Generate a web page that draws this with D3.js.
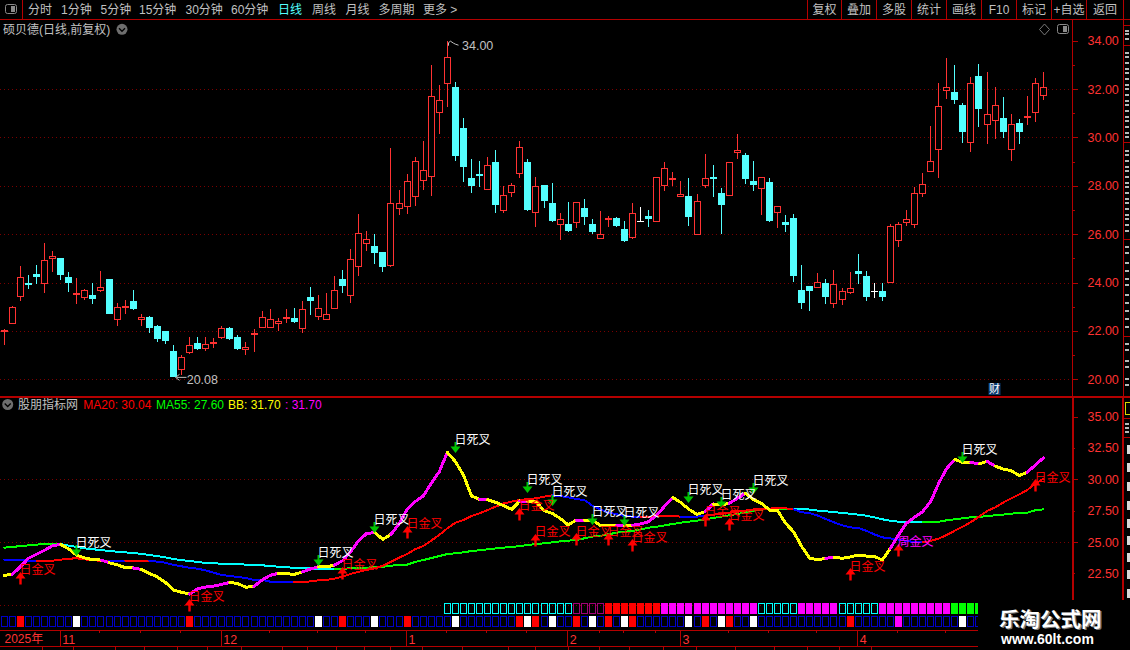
<!DOCTYPE html>
<html><head><meta charset="utf-8">
<script src="https://cdn.jsdelivr.net/npm/d3@7"></script>
<style>
html,body{margin:0;padding:0;background:#000;overflow:hidden}
svg{display:block}
text{font-family:"Liberation Sans","Noto Sans CJK SC",sans-serif}
</style></head><body>
<svg id="c" width="1130" height="650"></svg>
<script>
// ---------- data ----------
const openP=[21.96,22.30,23.42,23.98,24.35,23.95,24.97,25.02,24.23,23.49,23.36,23.49,23.65,24.15,22.45,22.96,23.24,22.46,22.58,22.20,22.00,21.17,20.38,21.09,21.50,21.27,21.46,21.71,22.12,21.75,21.21,21.83,22.13,22.13,22.30,22.49,22.53,22.09,23.40,22.59,22.46,22.92,24.15,23.46,24.66,25.61,25.51,25.26,24.68,27.05,
27.11,27.53,28.19,28.35,31.00,32.20,32.09,30.39,28.32,28.49,27.84,28.98,26.97,27.69,28.48,28.98,26.89,28.03,27.29,26.37,26.42,26.48,27.08,26.42,25.81,26.57,26.67,26.21,25.85,26.53,26.75,26.52,28.00,28.28,27.55,27.58,25.98,28.00,28.36,27.70,27.59,29.37,29.27,28.20,27.86,28.16,26.89,26.50,26.67,23.69,
23.86,23.79,23.98,23.13,23.29,23.58,24.48,24.27,23.65,23.65,23.99,25.73,26.48,26.39,27.67,28.58,29.49,31.93,31.88,31.34,29.78,32.54,30.53,30.69,30.80,29.49,30.60,30.82,31.02,31.73];
const closeP=[22.02,22.98,24.22,23.90,24.23,24.92,25.10,24.31,23.98,23.55,23.69,23.32,23.80,22.70,22.98,23.03,22.91,22.56,22.12,21.67,21.58,20.10,20.91,21.41,21.25,21.45,21.54,22.11,21.67,21.25,21.32,21.91,22.56,22.48,22.40,22.58,22.37,22.89,23.24,22.94,22.69,23.68,23.86,24.96,26.04,25.79,25.22,24.64,27.28,27.28,
28.19,29.01,28.64,31.70,31.54,33.31,29.23,28.78,27.99,28.41,28.85,27.21,27.61,28.02,29.59,27.00,27.98,27.37,26.55,26.62,26.13,27.32,26.71,26.09,26.00,26.66,26.34,25.72,26.86,26.53,26.63,28.35,28.72,28.34,27.65,26.71,27.36,28.31,28.29,27.21,28.97,29.47,28.28,28.03,28.35,26.55,27.15,26.38,24.27,23.15,
23.65,24.02,23.40,23.93,23.64,23.76,24.35,23.40,23.65,23.40,26.33,26.41,26.62,27.69,28.06,29.01,31.29,32.07,31.55,30.23,32.24,31.18,30.96,31.33,30.23,30.54,30.23,30.89,32.24,32.07];
const highP=[22.07,23.02,24.68,24.31,24.73,25.64,25.31,25.02,24.44,24.19,23.73,23.98,24.48,24.15,23.15,23.28,23.69,22.70,22.62,22.25,22.00,21.42,21.00,21.75,21.75,21.75,21.71,22.20,22.16,21.83,21.54,22.08,22.82,22.91,22.53,22.91,22.95,23.24,23.82,23.49,23.57,24.27,24.52,25.39,26.83,26.13,26.01,25.26,29.56,27.83,
28.49,29.19,29.85,33.00,32.17,34.00,32.29,30.80,29.11,29.03,29.19,29.48,27.99,28.12,29.85,29.11,28.36,28.03,28.12,26.88,27.33,27.32,27.46,26.63,26.96,26.75,26.71,26.55,27.29,27.12,27.00,28.35,28.98,28.57,28.20,28.32,27.66,29.32,28.86,27.91,28.97,30.14,29.36,29.03,28.35,28.32,27.15,26.79,26.83,24.73,
23.86,24.40,24.15,24.52,23.78,24.44,25.18,24.48,23.98,23.98,26.41,26.50,27.00,27.95,28.53,30.47,32.25,33.28,33.00,31.42,32.50,33.04,32.71,32.09,31.67,30.97,30.76,31.71,32.46,32.71];
const lowP=[21.42,22.30,23.24,23.73,23.94,23.57,24.44,24.11,23.61,23.11,23.28,23.11,23.61,22.70,22.20,22.70,22.87,22.20,21.91,21.54,21.46,20.08,20.18,21.05,21.21,21.17,21.29,21.67,21.63,21.21,21.00,21.13,22.12,22.12,22.00,22.33,22.33,21.91,22.66,22.45,22.45,22.91,23.57,23.15,24.27,25.31,24.77,24.44,24.64,26.79,
26.83,27.17,27.83,27.58,30.14,31.27,29.04,28.16,27.70,27.95,27.84,26.88,26.88,27.54,28.32,26.96,26.30,27.08,26.50,25.76,26.09,26.26,26.38,26.01,25.81,26.30,26.30,25.68,25.80,26.53,26.30,26.52,27.79,27.99,27.55,26.34,25.98,27.91,27.54,26.01,27.59,29.11,28.08,27.79,26.79,26.52,26.26,26.09,24.02,22.91,
22.82,23.79,23.11,22.96,23.07,23.53,23.94,23.24,23.36,23.24,23.99,25.47,26.34,26.26,27.54,28.58,28.32,31.59,31.38,29.77,29.40,30.43,29.73,29.94,29.98,29.03,29.73,30.51,30.64,31.55];

const ma20=[23.59,23.56,23.54,23.51,23.46,23.48,23.51,23.59,23.67,23.70,23.62,23.54,23.51,23.51,23.51,23.51,23.51,23.51,23.51,23.43,23.35,23.17,23.06,22.95,22.87,22.74,22.55,22.37,22.29,22.21,22.13,21.97,21.97,21.84,21.84,21.81,21.81,21.81,21.86,21.94,21.97,22.08,22.24,22.45,22.63,22.77,22.90,23.11,23.43,23.75,
24.04,24.42,24.68,25.11,25.56,26.09,26.54,26.75,27.07,27.29,27.55,27.82,28.08,28.22,28.35,28.43,28.48,28.61,28.72,28.67,28.56,28.43,28.35,27.90,27.60,27.34,27.21,27.07,27.02,27.02,27.02,27.05,27.07,27.07,27.02,27.02,27.02,27.10,27.18,27.23,27.34,27.42,27.50,27.60,27.60,27.66,27.71,27.68,27.60,27.37,
27.31,27.10,26.83,26.57,26.33,26.17,26.12,25.90,25.61,25.37,25.29,25.19,25.08,25.00,24.97,25.08,25.27,25.56,25.90,26.22,26.59,27.02,27.47,27.76,28.14,28.48,28.80,29.15,29.65,30.04];
const ma55=[24.55,24.60,24.68,24.73,24.79,24.87,24.87,24.84,24.71,24.60,24.49,24.42,24.36,24.28,24.23,24.18,24.10,24.07,23.96,23.88,23.78,23.64,23.56,23.48,23.41,23.33,23.30,23.27,23.27,23.27,23.19,23.17,23.14,23.09,23.03,22.98,22.95,22.93,22.90,22.87,22.87,22.87,22.87,22.90,22.93,22.95,23.01,23.03,23.11,23.16,
23.19,23.41,23.56,23.72,23.88,24.04,24.10,24.18,24.28,24.34,24.42,24.49,24.55,24.60,24.68,24.76,24.84,24.89,24.97,25.05,25.11,25.16,25.29,25.43,25.50,25.61,25.74,25.82,25.88,26.01,26.14,26.22,26.33,26.44,26.54,26.62,26.70,26.81,26.91,27.02,27.13,27.23,27.37,27.50,27.58,27.63,27.66,27.66,27.66,27.66,
27.58,27.50,27.45,27.39,27.31,27.26,27.18,27.10,26.97,26.81,26.70,26.62,26.57,26.59,26.59,26.59,26.62,26.73,26.81,26.89,26.97,26.99,27.07,27.13,27.18,27.26,27.31,27.34,27.53,27.60];
const bb=[22.34,22.42,23.03,23.70,24.02,24.34,24.71,24.81,24.44,23.94,23.72,23.59,23.56,23.35,23.19,22.95,22.93,22.82,22.50,22.21,21.78,21.17,20.99,20.85,21.28,21.41,21.49,21.62,21.78,21.68,21.39,21.46,21.97,22.34,22.50,22.47,22.42,22.61,22.85,23.03,23.01,23.17,23.51,24.23,25.11,25.69,25.74,25.21,25.61,26.44,
27.60,28.22,28.67,29.68,30.61,32.15,31.41,30.34,28.67,28.40,28.38,28.16,27.90,27.60,28.27,28.22,28.22,27.50,27.29,26.89,26.36,26.75,26.75,26.75,26.33,26.28,26.28,26.28,26.33,26.44,26.62,27.15,27.87,28.54,28.14,27.60,27.21,27.42,28.03,27.95,28.08,28.48,28.88,28.40,28.08,27.55,27.50,26.49,25.80,24.63,
23.70,23.59,23.70,23.78,23.70,23.80,23.96,23.88,23.86,23.56,24.49,25.56,26.49,26.97,27.42,28.22,29.68,30.87,31.59,31.33,31.35,31.22,31.43,31.06,30.82,30.69,30.29,30.56,31.14,31.70];

// index runs [from,to) in which a line takes its alternate colour
const ma20BlueRuns=[[0,4],[13,15],[18,36],[68,79],[84,87],[98,114]];
const ma55CyanRuns=[[7,41],[98,114]];
const bbMagentaRuns=[[1,7],[12,13],[16,17],[23,28],[31,34],[37,39],[41,46],[48,55],[59,60],[64,65],[71,72],[76,77],[78,83],[87,88],[90,92],[102,103],[110,118],[120,121],[122,123],[127,129]];

// crossing signals: candle index and indicator value at the arrow tip
const deathIdx=[9,39,46,56,65,68,73,77,85,89,93,119];
const deathVal=[23.86,23.11,25.74,32.12,28.93,27.90,26.36,26.28,28.08,27.68,28.83,31.27];
const goldIdx=[2,23,42,50,64,66,71,75,78,87,90,105,128];
const goldVal=[22.63,20.45,23.03,26.28,27.74,25.64,25.69,25.69,25.21,27.23,26.91,22.90,30.00];
const weekIdx=[111];
const weekVal=[24.84];
const deathText="日死叉", goldText="日金叉", weekText="周金叉";

// upper status strip: [from,to] index, kind
const rowARuns=[[55,70,"cyan"],[71,74,"plum"],[75,81,"red"],[82,93,"magenta"],[94,98,"cyan"],[99,103,"magenta"],[104,108,"cyan"],[109,117,"magenta"],[118,121,"green"]];
const rowBCount=122;

const priceMajor=[20,22,24,26,28,30,32,34];
const priceGrid=[20,22,24,26,28,30,32];
const priceMinor=[21,23,25,27,29,31,33];
const indMajor=[25,30,35];
const indMinor=[22.5,27.5,32.5];
const indGrid=[20,25,30];
const monthIdx=[7,27,50,70,84,106];
const monthLabels=["11","12","1","2","3","4"];
const yearLabel="2025年";
const dayTicks=[12,17,22,33,39,45,55,60,65,74,77,81,90,95,101,111,117];
const lowerTicks=[4.8,8.6,13.8,17.4,21.5,25.2,29.4,34.5,37.7,41.3,44.7,48,51.9,56.9,62.6,66,70,73.9,77.6,81.8,85.9,90.8,95.6,99.7,103.7,107.7];

const periodLabels=["分时","1分钟","5分钟","15分钟","30分钟","60分钟","日线","周线","月线","多周期","更多 >"];
const periodStarts=[28,61,100.5,139,185.5,231,278,312,345.5,378.5,423];
const actionLabels=["复权","叠加","多股","统计","画线","F10","标记","+自选","返回"];
const actionEdges=[807.5,841.5,876.5,911.5,946.5,981.5,1016.5,1051.5,1086.5,1123.5];

// ---------- colours ----------
const RED="#ff3232",CYAN="#54ffff",AXIS="#b40000",GRID="#7a0000",GREY="#c0c0c0";

// ---------- scales ----------
const n=openP.length;
const x=d3.scaleLinear().domain([0,n-1]).range([4.33,1043.4]);
const y=d3.scaleLinear().domain([20,34]).range([379.3,40.7]);
const y2=d3.scaleLinear().domain([20,35]).range([604.7,416.6]);
const cx=i=>Math.floor(x(i))+.5;
const crisp=v=>Math.round(v)+.5;

const svg=d3.select("#c").style("background","#000");
const defs=svg.append("defs");
defs.append("clipPath").attr("id","rows").append("rect").attr("x",0).attr("y",596).attr("width",978).attr("height",54);

// grid
const g=svg.append("g").attr("shape-rendering","crispEdges");
g.selectAll(".gu").data(priceGrid).join("line").attr("x1",0).attr("x2",1072)
 .attr("y1",d=>crisp(y(d))).attr("y2",d=>crisp(y(d))).attr("stroke",GRID).attr("stroke-dasharray","1 3");
g.selectAll(".gl").data(indGrid).join("line").attr("x1",0).attr("x2",d=>d===20?978:1072)
 .attr("y1",d=>crisp(y2(d))).attr("y2",d=>crisp(y2(d))).attr("stroke",GRID).attr("stroke-dasharray","1 3");

// candles
const candles=svg.append("g").attr("shape-rendering","crispEdges");
const idx=d3.range(n);
const colorOf=i=>closeP[i]===openP[i]?"#fff":closeP[i]>openP[i]?RED:CYAN;
candles.selectAll("line").data(idx).join("line")
 .attr("x1",cx).attr("x2",cx)
 .attr("y1",i=>Math.round(y(highP[i]))).attr("y2",i=>Math.round(y(lowP[i])))
 .attr("stroke",colorOf);
candles.selectAll("rect").data(idx).join("rect")
 .each(function(i){
   const top=Math.round(y(Math.max(openP[i],closeP[i]))),bot=Math.round(y(Math.min(openP[i],closeP[i])));
   const s=d3.select(this);
   if(closeP[i]>openP[i]){
     s.attr("x",cx(i)-3).attr("width",6).attr("y",top+.5).attr("height",Math.max(bot-top-1,0.5))
      .attr("fill","#000").attr("stroke",RED);
   }else if(closeP[i]<openP[i]){
     s.attr("x",cx(i)-3.5).attr("width",7).attr("y",top).attr("height",Math.max(bot-top,2)).attr("fill",CYAN);
   }else{
     s.attr("x",cx(i)-3.5).attr("width",7).attr("y",top).attr("height",1).attr("fill","#fff");
   }
 });

// high / low notes
const note=svg.append("g").attr("fill","none").attr("stroke",GREY);
const hiI=highP.indexOf(d3.max(highP)),loI=lowP.indexOf(d3.min(lowP));
const hx=cx(hiI),hy=y(d3.max(highP));
note.append("path").attr("d",d3.line()([[hx+1,hy+2],[hx+3,hy+.5],[hx+6,hy+2.5],[hx+8,hy+3.5],[hx+11,hy+4.5]]));
note.append("path").attr("d",d3.line()([[hx+1,hy+2],[hx+1,hy+5]]));
const lx=cx(loI),ly=y(d3.min(lowP));
note.append("path").attr("d",d3.line()([[lx+3,ly],[lx+13,ly]]));
note.append("path").attr("d",d3.line()([[lx+6,ly-3],[lx+2,ly],[lx+6,ly+3]]));
svg.append("text").attr("x",462).attr("y",45.7).attr("dy",".36em").attr("font-size",12.5).attr("fill",GREY).text(d3.max(highP).toFixed(2));
svg.append("text").attr("x",186.7).attr("y",379).attr("dy",".36em").attr("font-size",12.5).attr("fill",GREY).text(d3.min(lowP).toFixed(2));

// indicator lines
function drawLine(vals,runs,base,alt,w){
 const isAlt=i=>runs.some(r=>i>=r[0]&&i<r[1]);
 const path=d3.line().x(i=>x(i)).y(i=>y2(vals[i]));
 const grp=svg.append("g").attr("fill","none").attr("stroke-width",w).attr("stroke-linejoin","round").attr("stroke-linecap","round").attr("shape-rendering","crispEdges");
 let s=0;
 for(let i=1;i<=vals.length-1;i++){
   if(i===vals.length-1||isAlt(i)!==isAlt(s)){
     grp.append("path").attr("d",path(d3.range(s,i+1))).attr("stroke",isAlt(s)?alt:base);
     s=i;
   }
 }
}
drawLine(ma55,ma55CyanRuns,"#00ff00","#00ffff",2);
drawLine(ma20,ma20BlueRuns,"#ff0000","#0000ff",2);
drawLine(bb,bbMagentaRuns,"#ffff00","#ff00ff",3);

// arrows
const arrows=svg.append("g");
deathIdx.forEach((i,k)=>{
 const c=cx(i),t=Math.round(y2(deathVal[k]));
 arrows.append("path").attr("fill","#00c400")
  .attr("d",d3.line()([[c,t],[c+5,t-6.5],[c+1,t-6.5],[c+1,t-11],[c-1,t-11],[c-1,t-6.5],[c-5,t-6.5]])+"Z");
});
goldIdx.concat(weekIdx).forEach((i,k)=>{
 const c=cx(i),t=Math.round(y2(goldVal.concat(weekVal)[k]));
 arrows.append("path").attr("fill","#ff0000")
  .attr("d",d3.line()([[c,t],[c+5,t+6.5],[c+1.2,t+6.5],[c+1.2,t+12.5],[c-1.2,t+12.5],[c-1.2,t+6.5],[c-5,t+6.5]])+"Z");
});

// signal labels
const labels=svg.append("g").attr("font-size",12).attr("font-family","'Noto Sans CJK SC'");
deathIdx.forEach((i,k)=>labels.append("text").attr("x",cx(i)-1).attr("y",y2(deathVal[k])-13.5).attr("dy",".36em").attr("fill","#fff").text(deathText));
goldIdx.forEach((i,k)=>labels.append("text").attr("x",cx(i)-1).attr("y",y2(goldVal[k])-2).attr("dy",".36em").attr("fill","#ff0000").text(goldText));
weekIdx.forEach((i,k)=>labels.append("text").attr("x",cx(i)-1).attr("y",y2(weekVal[k])-2).attr("dy",".36em").attr("fill","#ff00ff").text(weekText));

// status strips
const rows=svg.append("g").attr("clip-path","url(#rows)").attr("shape-rendering","crispEdges");
const kindStyle={cyan:["none","#00ffff"],plum:["none","#a00078"],red:["#ff0000","none"],magenta:["#ff00ff","none"],green:["#00ff00","none"]};
function cell(i,top,h,fill,stroke){
 if(fill!=="none") rows.append("rect").attr("x",cx(i)-3.5).attr("width",7).attr("y",top).attr("height",h).attr("fill",fill);
 else rows.append("rect").attr("x",cx(i)-3).attr("width",6).attr("y",top+.5).attr("height",h-1).attr("fill","none").attr("stroke",stroke);
}
rowARuns.forEach(r=>d3.range(r[0],r[1]+1).forEach(i=>cell(i,603,11,kindStyle[r[2]][0],kindStyle[r[2]][1])));
d3.range(rowBCount).forEach(i=>{
 if(deathIdx.includes(i)) cell(i,616,11,"#fff");
 else if(goldIdx.includes(i)) cell(i,616,11,"#ff0000");
 else if(weekIdx.includes(i)) cell(i,616,11,"#ff00ff");
 else cell(i,616,11,"none","#0000c8");
});

// frame
const frame=svg.append("g").attr("shape-rendering","crispEdges").attr("stroke",AXIS);
[[0,19.5,1130,19.5],[22.5,0,22.5,19.5],[0,396.5,1130,396.5],[0,630.5,978,630.5],[0,646.5,978,646.5],
 [1072.5,19.5,1072.5,396],[1123.5,0,1123.5,397],[1072.5,397,1072.5,600],[1123.5,397,1123.5,600],
 [1123.5,25.5,1130,25.5],[1123.5,45.5,1130,45.5],[1123.5,142.5,1130,142.5],[1123.5,239.5,1130,239.5],[1123.5,336.5,1130,336.5],[1123.5,418.5,1130,418.5],[1123.5,437.5,1130,437.5]]
 .forEach(l=>frame.append("line").attr("x1",l[0]).attr("y1",l[1]).attr("x2",l[2]).attr("y2",l[3]));
frame.append("line").attr("x1",0).attr("x2",1130).attr("y1",396.5).attr("y2",396.5).attr("stroke-width",2);
frame.append("line").attr("x1",1073).attr("x2",1073).attr("y1",397).attr("y2",600).attr("stroke-width",2);
frame.append("line").attr("x1",1123).attr("x2",1123).attr("y1",397).attr("y2",600).attr("stroke-width",2);
actionEdges.forEach(e=>frame.append("line").attr("x1",e).attr("x2",e).attr("y1",0).attr("y2",19));

// price and indicator axes
function styleAxis(sel,size){
 sel.attr("shape-rendering","crispEdges");
 sel.select(".domain").remove();
 sel.selectAll("line").attr("stroke",AXIS);
 sel.selectAll("text").attr("fill",RED).attr("font-size",size).attr("font-family","'Liberation Sans'").attr("shape-rendering","auto");
}
svg.append("g").attr("transform","translate(1072.5,0)").call(d3.axisRight(y).tickValues(priceMajor).tickFormat(d3.format(".2f")).tickSize(5).tickPadding(10)).call(styleAxis,12.5);
svg.append("g").attr("transform","translate(1072.5,0)").call(d3.axisRight(y).tickValues(priceMinor).tickFormat("").tickSize(2)).call(styleAxis,12.5);
svg.append("g").attr("transform","translate(1072.5,0)").call(d3.axisRight(y2).tickValues(indMajor).tickFormat(d3.format(".2f")).tickSize(5).tickPadding(10)).call(styleAxis,12.5);
svg.append("g").attr("transform","translate(1072.5,0)").call(d3.axisRight(y2).tickValues(indMinor).tickFormat(d3.format(".2f")).tickSize(2).tickPadding(13)).call(styleAxis,12.5);

// time axis
const timeAxis=svg.append("g").attr("transform","translate(-1,630.5)")
 .call(d3.axisBottom(x).tickValues(monthIdx).tickFormat((d,k)=>monthLabels[k]).tickSize(16).tickPadding(0));
timeAxis.select(".domain").remove();
timeAxis.attr("shape-rendering","crispEdges");
timeAxis.selectAll("line").attr("stroke",AXIS);
timeAxis.selectAll("text").attr("fill",RED).attr("font-size",12.5).attr("font-family","'Liberation Sans'").attr("text-anchor","start").attr("x",2).attr("y",8.5).attr("dy",".36em");
const tks=svg.append("g").attr("shape-rendering","crispEdges").attr("stroke",AXIS);
dayTicks.forEach(d=>tks.append("line").attr("x1",cx(d)-1).attr("x2",cx(d)-1).attr("y1",630).attr("y2",633));
lowerTicks.forEach(d=>tks.append("line").attr("x1",cx(d)).attr("x2",cx(d)).attr("y1",646).attr("y2",650));
svg.append("text").attr("x",4.5).attr("y",639).attr("dy",".36em").attr("fill",RED).attr("font-size",12).text(yearLabel);

// toolbar
const tb=svg.append("g").attr("font-size",12).attr("font-family","'Noto Sans CJK SC'");
periodLabels.forEach((t,k)=>tb.append("text").attr("x",periodStarts[k]).attr("y",9.5).attr("dy",".36em").attr("fill",t==="日线"?CYAN:GREY).text(t));
actionLabels.forEach((t,k)=>tb.append("text").attr("x",(actionEdges[k]+actionEdges[k+1])/2).attr("y",9.5).attr("dy",".36em").attr("text-anchor","middle").attr("fill",GREY).text(t));
// panel icons
function panelIcon(px,py){
 svg.append("rect").attr("x",px+.5).attr("y",py+.5).attr("width",11).attr("height",9).attr("rx",2).attr("fill","none").attr("stroke","#8a8a8a");
 svg.append("rect").attr("x",px+6).attr("y",py+2).attr("width",4).attr("height",6).attr("fill","#8a8a8a");
}
panelIcon(5,4);panelIcon(1057,24);
svg.append("path").attr("d",d3.line()([[1044.5,24],[1049.5,29.5],[1044.5,35],[1039.5,29.5]])+"Z").attr("fill","none").attr("stroke","#7a7a7a");

// headers
function chevron(px,py){
 svg.append("circle").attr("cx",px).attr("cy",py).attr("r",5.5).attr("fill","#6e6e6e");
 svg.append("path").attr("d",d3.line()([[px-3,py-1],[px,py+2],[px+3,py-1]])).attr("fill","none").attr("stroke","#000").attr("stroke-width",1.3);
}
svg.append("text").attr("x",3).attr("y",29.3).attr("dy",".36em").attr("font-size",12).attr("fill",GREY).text("硕贝德(日线,前复权)");
chevron(122,29.3);
chevron(7.7,404.5);
svg.append("text").attr("x",18).attr("y",405).attr("dy",".36em").attr("font-size",12).attr("fill",GREY).text("股朋指标网");
const last=n-1;
const fmt=d3.format(".2f");
[[83.3,"MA20: "+fmt(ma20[last]),"#ff0000"],[156,"MA55: "+fmt(ma55[last]),"#00ff00"],[228,"BB: "+fmt(bb[last]),"#ffff00"],[285,": "+fmt(bb[last]),"#ff00ff"]]
 .forEach(a=>svg.append("text").attr("x",a[0]).attr("y",405).attr("dy",".36em").attr("font-size",12).attr("fill",a[2]).text(a[1]));

// news badge
svg.append("rect").attr("x",988.5).attr("y",383).attr("width",12).attr("height",12).attr("fill","#0a3a6e");
svg.append("text").attr("x",994.5).attr("y",389).attr("dy",".36em").attr("text-anchor","middle").attr("font-size",11).attr("fill","#fff").text("财");

// cut-off side panel: only slivers of its content are visible in the window
const side=svg.append("g").attr("shape-rendering","crispEdges");
[30,33,38,52,56,62,68,72,78,84,88,94,100,104,110,116,120,126,132,136,150,154,160,166,170,176,182,186,192,198,202,208,214,218,224,230,246,252,262,270,278,284,294,302,310,318,326,343,349,360,366,378,384].forEach(t=>side.append("rect").attr("x",1125).attr("y",t).attr("width",4).attr("height",2).attr("fill","#b8b8b8"));
side.append("rect").attr("x",1125).attr("y",402).attr("width",5).attr("height",12).attr("fill","none").attr("stroke","#d8d800");
[423,427,431].forEach(t=>side.append("rect").attr("x",1125).attr("y",t).attr("width",4).attr("height",2).attr("fill","#b8b8b8"));
[445,463,482,501,519,536,553,570,589].forEach(t=>side.append("rect").attr("x",1127).attr("y",t).attr("width",3).attr("height",9).attr("fill","#d8d8d8"));

// watermark
const wm=svg.append("g");
wm.append("rect").attr("x",978).attr("y",600).attr("width",152).attr("height",50).attr("fill","#000");
wm.append("text").attr("x",999.5).attr("y",620).attr("dy",".36em").attr("font-size",20.5).attr("font-weight",700).attr("font-family","'Noto Sans CJK SC'").attr("fill","#7a7a7a").text("乐淘公式网").attr("transform","translate(1,1)");
wm.append("text").attr("x",999).attr("y",620).attr("dy",".36em").attr("font-size",20.5).attr("font-weight",700).attr("font-family","'Noto Sans CJK SC'").attr("fill","#fff").text("乐淘公式网");
wm.append("text").attr("x",1001).attr("y",639).attr("dy",".36em").attr("font-size",14).attr("font-weight",700).attr("font-family","'Liberation Serif'").attr("fill","#fff").text("www.60lt.com");
</script>
</body></html>
